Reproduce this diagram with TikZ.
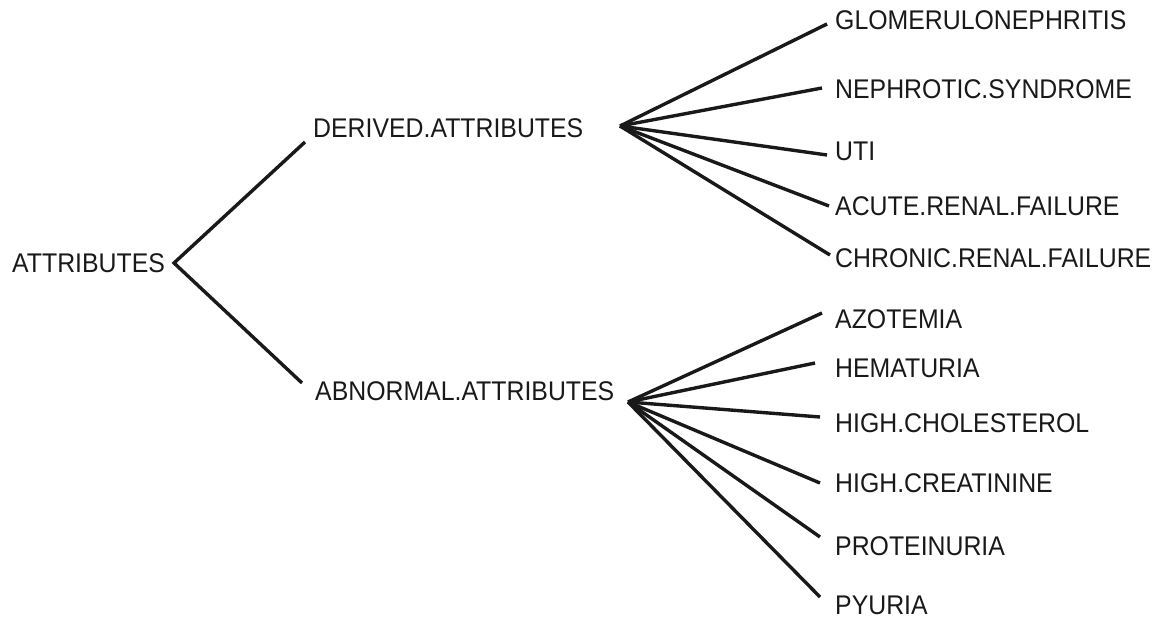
\documentclass[tikz,border=0pt]{standalone}
\usepackage{fontspec}
\setmainfont[FakeStretch=0.92]{Liberation Sans}
\begin{document}
\begin{tikzpicture}[x=1pt,y=-1pt,
  lbl/.style={anchor=base west,inner sep=0pt,text=black!90,font=\fontsize{27}{30}\selectfont},
  branch/.style={draw=black!90,line width=3.4pt,line join=miter}]
\useasboundingbox (0,0) rectangle (1158,620);

% labels (baseline = cap centre + 9.7)
\node[lbl] (root) at (12,272) {ATTRIBUTES};
\node[lbl] (der)  at (313,138) {DERIVED.ATTRIBUTES};
\node[lbl] (abn)  at (315,400) {ABNORMAL.ATTRIBUTES};

\node[lbl] (glo) at (835,30)  {GLOMERULONEPHRITIS};
\node[lbl] (nep) at (835,99)  {NEPHROTIC.SYNDROME};
\node[lbl] (uti) at (835,161) {UTI};
\node[lbl] (arf) at (835,216) {ACUTE.RENAL.FAILURE};
\node[lbl] (crf) at (835,267) {CHRONIC.RENAL.FAILURE};

\node[lbl] (azo) at (835,328) {AZOTEMIA};
\node[lbl] (hem) at (835,377) {HEMATURIA};
\node[lbl] (hch) at (835,432) {HIGH.CHOLESTEROL};
\node[lbl] (hcr) at (835,492) {HIGH.CREATININE};
\node[lbl] (pro) at (835,555) {PROTEINURIA};
\node[lbl] (pyu) at (835,614) {PYURIA};

% branching points and line ends
\coordinate (rootHub) at (174,263);
\coordinate (derEnd)  at (305,142);
\coordinate (abnEnd)  at (302,383);
\coordinate (derHub)  at (620,126);
\coordinate (abnHub)  at (628,402);

\coordinate (gloEnd) at (827,24);
\coordinate (nepEnd) at (822,88);
\coordinate (utiEnd) at (827,155);
\coordinate (arfEnd) at (829,206);
\coordinate (crfEnd) at (830,255);

\coordinate (azoEnd) at (822,313);
\coordinate (hemEnd) at (815,363);
\coordinate (hchEnd) at (820,417);
\coordinate (hcrEnd) at (820,483);
\coordinate (proEnd) at (820,537);
\coordinate (pyuEnd) at (820,597);

% connectors
\draw[branch] (derEnd) -- (rootHub) -- (abnEnd);
\foreach \e in {gloEnd,nepEnd,utiEnd,arfEnd,crfEnd}
  \draw[branch] (derHub) -- (\e);
\foreach \e in {azoEnd,hemEnd,hchEnd,hcrEnd,proEnd,pyuEnd}
  \draw[branch] (abnHub) -- (\e);
\end{tikzpicture}
\end{document}
